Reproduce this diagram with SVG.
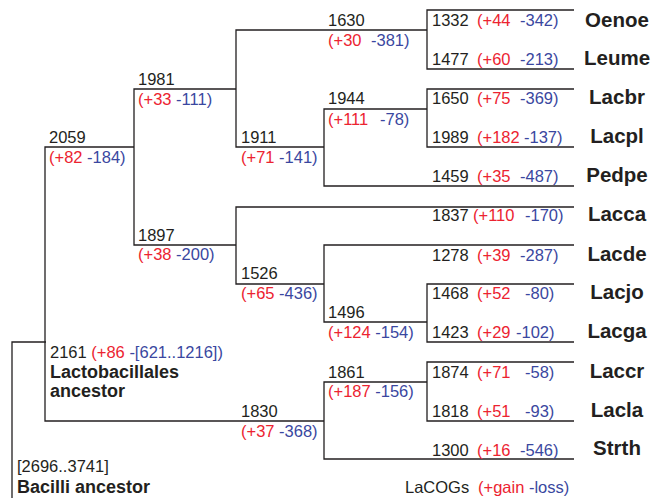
<svg xmlns="http://www.w3.org/2000/svg" width="651" height="498" viewBox="0 0 651 498">
  <style>
    text { font-family: "Liberation Sans", Arial, sans-serif; font-size: 16.5px; fill: #231f20; }
    .g { fill: #ec2330; }
    .l { fill: #3a47a0; }
    .name { font-weight: bold; font-size: 20.5px; text-anchor: middle; }
    .anc { font-weight: bold; font-size: 18px; }
    .edge { fill: none; stroke: #231f20; stroke-width: 1.3; }
  </style>
  <rect width="651" height="498" fill="#ffffff"/>

  <!-- tree branches -->
  <g id="connectors">
    <path class="edge" d="M12,498 V342 H46"/>
    <path class="edge" d="M134,147 H45 V421 H324"/>
    <path class="edge" d="M236,89 H134 V245 H236"/>
    <path class="edge" d="M427,30 H236 V147 H324"/>
    <path class="edge" d="M574,10 H427 V69 H574"/>
    <path class="edge" d="M427,109 H324 V186 H574"/>
    <path class="edge" d="M574,89 H427 V147 H574"/>
    <path class="edge" d="M574,207 H236 V284 H324"/>
    <path class="edge" d="M574,245 H324 V322 H427"/>
    <path class="edge" d="M574,284 H427 V342 H574"/>
    <path class="edge" d="M427,382 H324 V459 H574"/>
    <path class="edge" d="M574,362 H427 V421 H574"/>
  </g>

  <!-- ancestral nodes -->
  <g id="node-bacilli">
    <text x="17" y="472">[2696..3741]</text>
    <text x="17" y="493" class="anc">Bacilli ancestor</text>
  </g>
  <g id="node-lactobacillales">
    <text x="50" y="358">2161 <tspan class="g">(+86</tspan> <tspan class="l">-[621..1216])</tspan></text>
    <text x="50" y="378" class="anc">Lactobacillales</text>
    <text x="50" y="397" class="anc">ancestor</text>
  </g>
  <g id="node-2059">
    <text x="49" y="143">2059</text>
    <text x="49" y="163"><tspan class="g">(+82</tspan> <tspan class="l">-184)</tspan></text>
  </g>
  <g id="node-1981">
    <text x="138" y="85">1981</text>
    <text x="138" y="105"><tspan class="g">(+33</tspan> <tspan class="l">-111)</tspan></text>
  </g>
  <g id="node-1897">
    <text x="138" y="241">1897</text>
    <text x="138" y="260"><tspan class="g">(+38</tspan> <tspan class="l">-200)</tspan></text>
  </g>
  <g id="node-1911">
    <text x="241" y="143">1911</text>
    <text x="241" y="163"><tspan class="g">(+71</tspan> <tspan class="l">-141)</tspan></text>
  </g>
  <g id="node-1526">
    <text x="241" y="279">1526</text>
    <text x="241" y="299"><tspan class="g">(+65</tspan> <tspan class="l">-436)</tspan></text>
  </g>
  <g id="node-1830">
    <text x="241" y="417">1830</text>
    <text x="241" y="437"><tspan class="g">(+37</tspan> <tspan class="l">-368)</tspan></text>
  </g>
  <g id="node-1630">
    <text x="328" y="26">1630</text>
    <text x="328" y="46"><tspan class="g">(+30</tspan><tspan class="l" x="371">-381)</tspan></text>
  </g>
  <g id="node-1944">
    <text x="328" y="104">1944</text>
    <text x="328" y="125"><tspan class="g">(+111</tspan><tspan class="l" x="380">-78)</tspan></text>
  </g>
  <g id="node-1496">
    <text x="328" y="318">1496</text>
    <text x="328" y="338"><tspan class="g">(+124</tspan> <tspan class="l">-154)</tspan></text>
  </g>
  <g id="node-1861">
    <text x="328" y="378">1861</text>
    <text x="328" y="397"><tspan class="g">(+187</tspan> <tspan class="l">-156)</tspan></text>
  </g>

  <!-- leaves -->
  <g id="leaf-oenoe">
    <text x="432" y="26">1332<tspan class="g" x="477">(+44</tspan><tspan class="l" x="520">-342)</tspan></text>
    <text x="617" y="27" class="name">Oenoe</text>
  </g>
  <g id="leaf-leume">
    <text x="432" y="65">1477<tspan class="g" x="477">(+60</tspan><tspan class="l" x="520">-213)</tspan></text>
    <text x="617" y="65" class="name">Leume</text>
  </g>
  <g id="leaf-lacbr">
    <text x="432" y="104">1650<tspan class="g" x="477">(+75</tspan><tspan class="l" x="520">-369)</tspan></text>
    <text x="617" y="104" class="name">Lacbr</text>
  </g>
  <g id="leaf-lacpl">
    <text x="432" y="143">1989<tspan class="g" x="477">(+182</tspan><tspan class="l" x="524">-137)</tspan></text>
    <text x="617" y="143" class="name">Lacpl</text>
  </g>
  <g id="leaf-pedpe">
    <text x="432" y="182">1459<tspan class="g" x="477">(+35</tspan><tspan class="l" x="520">-487)</tspan></text>
    <text x="617" y="182" class="name">Pedpe</text>
  </g>
  <g id="leaf-lacca">
    <text x="432" y="221">1837<tspan class="g" x="473">(+110</tspan><tspan class="l" x="525">-170)</tspan></text>
    <text x="617" y="221" class="name">Lacca</text>
  </g>
  <g id="leaf-lacde">
    <text x="432" y="261">1278<tspan class="g" x="477">(+39</tspan><tspan class="l" x="520">-287)</tspan></text>
    <text x="617" y="261" class="name">Lacde</text>
  </g>
  <g id="leaf-lacjo">
    <text x="432" y="299">1468<tspan class="g" x="477">(+52</tspan><tspan class="l" x="525">-80)</tspan></text>
    <text x="617" y="299" class="name">Lacjo</text>
  </g>
  <g id="leaf-lacga">
    <text x="432" y="338">1423<tspan class="g" x="477">(+29</tspan><tspan class="l" x="516">-102)</tspan></text>
    <text x="617" y="338" class="name">Lacga</text>
  </g>
  <g id="leaf-laccr">
    <text x="432" y="378">1874<tspan class="g" x="477">(+71</tspan><tspan class="l" x="525">-58)</tspan></text>
    <text x="617" y="378" class="name">Laccr</text>
  </g>
  <g id="leaf-lacla">
    <text x="432" y="417">1818<tspan class="g" x="477">(+51</tspan><tspan class="l" x="525">-93)</tspan></text>
    <text x="617" y="417" class="name">Lacla</text>
  </g>
  <g id="leaf-strth">
    <text x="432" y="456">1300<tspan class="g" x="477">(+16</tspan><tspan class="l" x="520">-546)</tspan></text>
    <text x="617" y="455" class="name">Strth</text>
  </g>

  <!-- legend -->
  <g id="legend">
    <text x="405" y="493">LaCOGs<tspan class="g" x="478">(+gain</tspan> <tspan class="l">-loss)</tspan></text>
  </g>
</svg>
